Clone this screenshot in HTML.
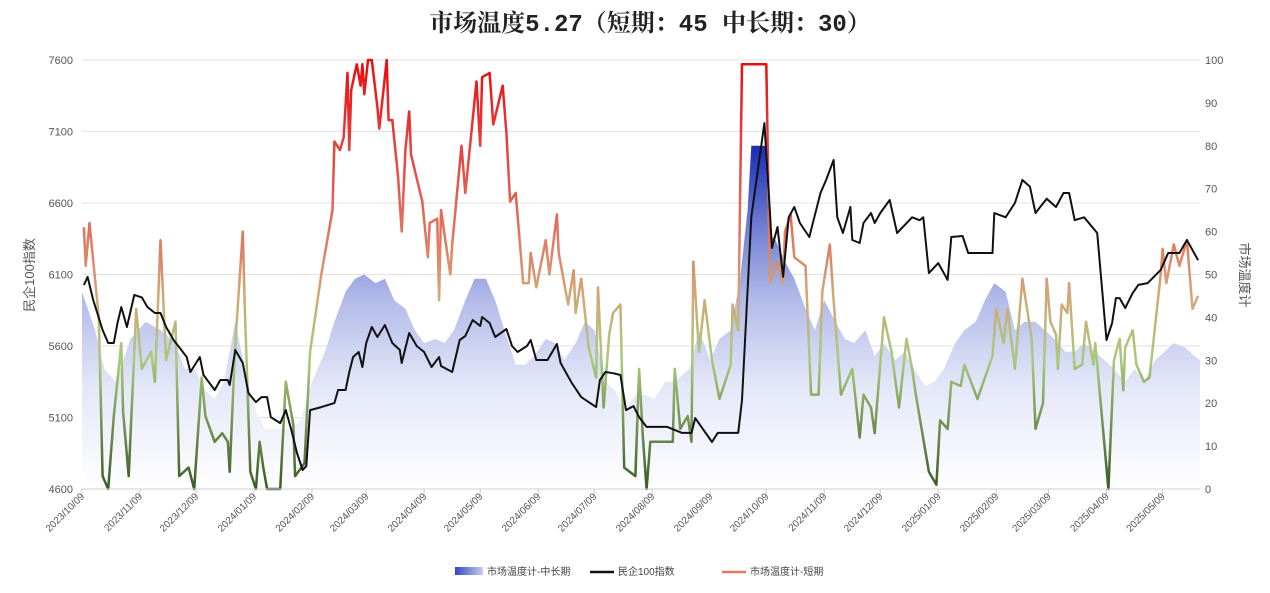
<!DOCTYPE html>
<html><head><meta charset="utf-8">
<style>
body{margin:0;background:#fff;}
svg{display:block;font-family:"Liberation Sans","Noto Sans CJK SC",sans-serif;}
</style></head>
<body>
<svg id="chart" width="1270" height="593" viewBox="0 0 1270 593">
<defs>
<linearGradient id="stGrad" gradientUnits="userSpaceOnUse" x1="0" y1="489" x2="0" y2="60">
<stop offset="0" stop-color="#3b5a26"/>
<stop offset="0.3" stop-color="#a9c97c"/>
<stop offset="0.45" stop-color="#d2a878"/>
<stop offset="0.6" stop-color="#e2735e"/>
<stop offset="0.8" stop-color="#e84040"/>
<stop offset="1" stop-color="#e80c0c"/>
</linearGradient>
<linearGradient id="ltGrad" gradientUnits="userSpaceOnUse" x1="0" y1="489" x2="0" y2="146">
<stop offset="0" stop-color="#ffffff"/>
<stop offset="0.3" stop-color="#e4e7f8"/>
<stop offset="0.55" stop-color="#b3bbe9"/>
<stop offset="0.75" stop-color="#7583d4"/>
<stop offset="1" stop-color="#1a2cb4"/>
</linearGradient>
<linearGradient id="legGrad" x1="0" y1="0" x2="1" y2="0">
<stop offset="0" stop-color="#3446c0"/><stop offset="1" stop-color="#c8cdf0"/>
</linearGradient>
</defs>
<text x="650" y="31" text-anchor="middle" font-size="24" font-weight="bold" fill="#222" font-family="'Liberation Mono','Noto Serif CJK SC',serif">市场温度5.27（短期：45 中长期：30）</text>
<g id="grid"></g>
<g id="area"></g>
<g id="lines"></g>
<g id="axes"></g>
<text transform="translate(34,275) rotate(-90)" text-anchor="middle" font-size="13" fill="#555">民企100指数</text>
<text transform="translate(1240,275) rotate(90)" text-anchor="middle" font-size="13" fill="#555">市场温度计</text>
<g>
<rect x="455" y="567" width="28" height="8" fill="url(#legGrad)"/>
<text x="487" y="575" font-size="10" fill="#444">市场温度计-中长期</text>
<line x1="590" y1="572" x2="614" y2="572" stroke="#111" stroke-width="2.5"/>
<text x="618" y="575" font-size="10" fill="#444">民企100指数</text>
<line x1="722" y1="572" x2="746" y2="572" stroke="#e07a60" stroke-width="2.5"/>
<text x="750" y="575" font-size="10" fill="#444">市场温度计-短期</text>
</g>
</svg>
<script>
// Day offsets from 2023-10-09
const leftTicks=[4600,5100,5600,6100,6600,7100,7600];
const rightTicks=[0,10,20,30,40,50,60,70,80,90,100];
const monthLabels=["2023/10/09","2023/11/09","2023/12/09","2024/01/09","2024/02/09","2024/03/09","2024/04/09","2024/05/09","2024/06/09","2024/07/09","2024/08/09","2024/09/09","2024/10/09","2024/11/09","2024/12/09","2025/01/09","2025/02/09","2025/03/09","2025/04/09","2025/05/09"];
const ltDays=[0,7,12,18,26,34,42,50,55,60,66,71,76,82,87,93,98,106,111,117,123,130,135,141,146,151,157,162,167,173,178,183,189,194,199,205,210,216,221,226,232,237,242,248,253,258,264,269,274,280,285,290,296,301,306,312,317,325,330,336,341,347,352,356,358,366,367,371,376,381,387,392,397,403,408,413,419,424,429,435,440,445,451,456,461,467,472,478,483,488,494,499,504,510,515,520,526,531,536,542,547,552,558,563,568,574,579,584,590,595,598];
const ltVals=[46,37,28,25,35,39,37,34,28,28,23,21,25,39,28,18,14,14,14,16,25,32,39,46,49,50,48,49,44,42,37,34,35,34,37,44,49,49,44,37,29,29,31,35,34,30,34,39,37,25,23,18,22,22,21,25,25,28,37,30,35,37,49,65,80,80,60,58,53,49,42,37,44,39,35,34,37,31,34,30,32,28,24,25,28,34,37,39,44,48,46,37,39,39,37,35,32,32,34,32,30,28,25,28,25,30,32,34,33,31,30];
const stDays=[1,2,4,9,11,14,17,21,22,25,29,32,37,39,42,45,50,52,57,60,64,66,71,75,78,79,82,86,87,90,93,95,97,99,106,109,113,114,119,122,128,134,135,138,140,142,143,144,147,149,150,151,153,155,158,159,163,164,166,169,171,173,175,176,182,185,186,190,191,192,197,198,203,205,211,213,214,218,220,225,227,229,232,236,239,240,243,248,250,254,255,260,263,264,267,271,275,276,279,282,284,288,290,296,298,300,302,304,310,316,317,320,324,326,327,330,333,337,341,347,348,351,353,366,368,372,375,376,379,381,387,390,394,396,400,402,406,412,416,418,422,424,429,433,437,441,444,446,453,457,459,463,465,470,472,479,487,489,493,495,499,503,508,510,514,516,518,521,522,524,527,528,531,535,537,541,542,549,552,555,557,558,562,564,568,571,577,578,580,584,587,591,594,597];
const stVals=[61,52,62,40,3,0,17,34,18,3,42,28,32,25,58,30,39,3,5,0,26,17,11,13,11,4,34,60,43,4,0,11,5,0,0,25,15,3,6,32,50,65,81,79,82,97,79,93,99,94,99,92,100,100,89,84,100,86,86,73,60,79,88,78,67,54,62,63,44,65,50,57,80,69,95,80,96,97,85,94,83,67,69,48,48,55,47,58,50,64,55,43,51,41,49,33,26,47,19,36,41,43,5,3,28,12,0,11,11,11,28,14,17,11,53,32,44,30,21,29,43,37,99,99,48,53,48,60,64,54,52,22,22,46,57,44,22,28,12,22,19,13,40,32,19,35,28,22,4,1,16,14,25,24,29,21,31,42,34,42,28,49,35,14,20,49,39,36,28,43,41,48,28,29,39,29,34,0,30,35,23,33,37,29,25,26,50,56,48,57,52,58,42,45];
const idxDays=[1,3,6,11,14,17,19,21,24,28,32,35,39,42,45,49,56,58,63,65,71,74,78,79,82,86,89,93,96,99,101,106,109,112,115,118,120,122,128,135,137,141,143,145,148,150,152,155,158,162,166,170,171,175,179,183,187,191,192,195,198,202,205,209,213,214,218,221,227,230,233,238,240,243,249,254,256,259,262,267,275,277,280,284,288,291,295,298,302,313,321,326,328,337,340,347,351,353,358,365,368,369,372,375,378,381,384,389,395,398,402,404,407,411,412,416,418,422,424,427,432,436,444,448,450,453,458,463,465,471,474,487,488,494,499,503,507,510,516,521,525,528,531,536,543,548,551,553,555,558,562,565,570,577,581,587,591,597];
const idxVals=[6027,6083,5922,5712,5621,5621,5761,5873,5733,5957,5940,5873,5831,5831,5733,5642,5523,5418,5523,5397,5292,5362,5362,5327,5572,5481,5271,5208,5243,5243,5103,5061,5152,5012,4852,4733,4760,5152,5173,5201,5292,5292,5418,5523,5558,5453,5621,5733,5663,5747,5621,5572,5481,5691,5600,5558,5453,5523,5460,5439,5418,5642,5670,5782,5740,5803,5761,5663,5719,5600,5558,5600,5642,5502,5502,5614,5481,5411,5341,5243,5173,5362,5418,5410,5397,5152,5180,5103,5034,5034,4992,4992,5096,4929,4992,4992,4992,5222,6502,7159,6530,6285,6432,6083,6500,6572,6460,6362,6670,6761,6901,6500,6390,6572,6341,6320,6460,6530,6460,6530,6621,6390,6500,6480,6500,6110,6180,6062,6362,6369,6250,6250,6530,6500,6600,6761,6715,6530,6630,6572,6670,6670,6480,6500,6390,5642,5761,5935,5935,5866,5970,6027,6040,6132,6250,6250,6341,6200];

const NS='http://www.w3.org/2000/svg';
const X0=82,X1=1200,YB=489,YT=60,DAYS=598;
const xS=d=>X0+d*(X1-X0)/DAYS;
const yL=v=>YB-(v-4600)/3000*(YB-YT);
const yR=v=>YB-v/100*(YB-YT);
function mk(tag,attrs,parent){const e=document.createElementNS(NS,tag);for(const k in attrs)e.setAttribute(k,attrs[k]);parent.appendChild(e);return e;}
const grid=document.getElementById('grid'),axes=document.getElementById('axes'),area=document.getElementById('area'),lines=document.getElementById('lines');
leftTicks.forEach(v=>{
 const g=mk('line',{x1:X0,x2:X1,y1:yL(v),y2:yL(v),stroke:'#e2e2e2','stroke-width':1},grid);
 
 
 const t=mk('text',{x:73,y:yL(v)+4,'text-anchor':'end','font-size':11,fill:'#555'},axes);t.textContent=v;
 
 
});
rightTicks.forEach(v=>{
 const t=mk('text',{x:1205,y:yR(v)+4,'font-size':11,fill:'#555'},axes);t.textContent=v;
 
 
});
const ax=mk('line',{x1:X0,x2:X1,y1:YB,y2:YB,stroke:'#d0d0d0'},axes);


const base=Date.UTC(2023,9,9);
monthLabels.forEach(s=>{
 const p=s.split('/');const d=(Date.UTC(+p[0],+p[1]-1,+p[2])-base)/86400000;const x=xS(d);
 const tk=mk('line',{x1:x,x2:x,y1:YB,y2:YB+5,stroke:'#ccc'},axes);
 
 
 const t=mk('text',{transform:`translate(${x+3},${YB+8}) rotate(-45)`,'text-anchor':'end','font-size':10,fill:'#555'},axes);t.textContent=s;
 
 
});
let d='M'+xS(ltDays[0])+','+YB;
ltDays.forEach((dd,i)=>{d+=' L'+xS(dd).toFixed(1)+','+yR(ltVals[i]).toFixed(1);});
d+=' L'+xS(ltDays[ltDays.length-1])+','+YB+' Z';
const ap=mk('path',{d:d,fill:'url(#ltGrad)'},area);


const sp=mk('polyline',{points:stDays.map((dd,i)=>xS(dd).toFixed(1)+','+yR(stVals[i]).toFixed(1)).join(' '),fill:'none',stroke:'url(#stGrad)','stroke-width':2.5,'stroke-linejoin':'round'},lines);


const ip=mk('polyline',{points:idxDays.map((dd,i)=>xS(dd).toFixed(1)+','+yL(idxVals[i]).toFixed(1)).join(' '),fill:'none',stroke:'#111','stroke-width':2,'stroke-linejoin':'round'},lines);


</script>
</body></html>
